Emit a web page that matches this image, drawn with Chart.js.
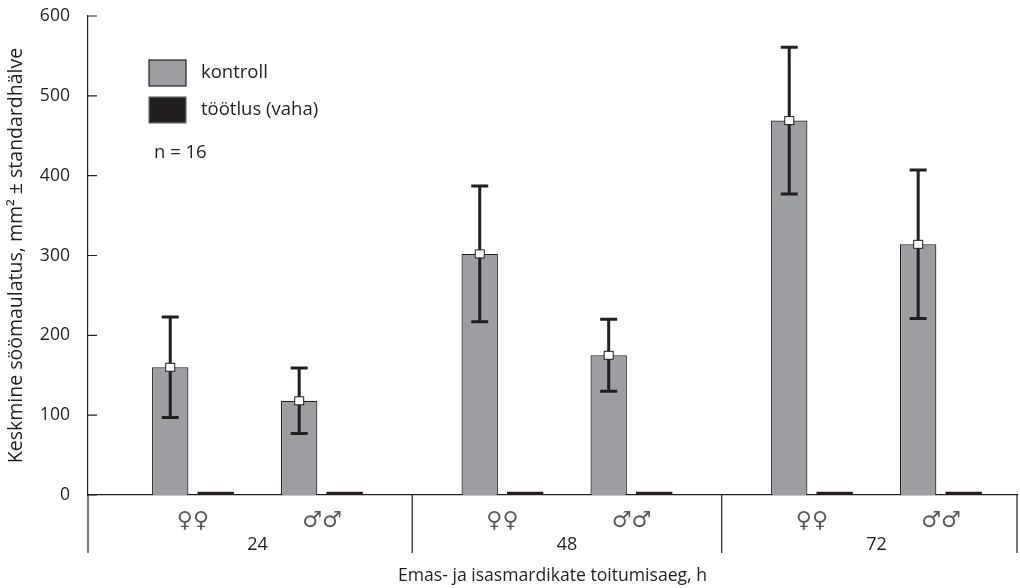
<!DOCTYPE html>
<html>
<head>
<meta charset="utf-8">
<title>Söömaulatus</title>
<script src="https://cdn.jsdelivr.net/npm/chart.js@4.4.1/dist/chart.umd.min.js"></script>
<style>
    html, body { margin: 0; padding: 0; background: #ffffff; }
    #wrap { width: 1020px; height: 588px; position: relative; }
</style>
</head>
<body>
<div id="wrap"><canvas id="feedChart"></canvas></div>
<script>
// --- Data ---
const hours = ['24', '48', '72'];
const sexLabels = ['♀♀', '♂♂'];
// order: 24 ♀♀, 24 ♂♂, 48 ♀♀, 48 ♂♂, 72 ♀♀, 72 ♂♂
const controlMean = [160, 118, 302, 175, 469, 314];
const controlSd = [63, 41, 85, 45, 92, 93];
const waxMean = [4, 4, 4, 4, 4, 4];
const yTicks = [0, 100, 200, 300, 400, 500, 600];
const legendLabels = ['kontroll', 'töötlus (vaha)'];
const sampleNote = 'n = 16';

const INK = '#231f20';
const GREY = '#9d9ea1';
const FONT = "'Open Sans', 'DejaVu Sans', sans-serif";
const GROUP_STEP = 2.4; // distance between hour groups, in slot units

// slot position of bar pair i on the linear x scale
const slotPos = (i) => Math.floor(i / 2) * GROUP_STEP + (i % 2);
const slots = controlMean.map((v, i) => slotPos(i));
const groupCentres = hours.map((h, g) => g * GROUP_STEP + 0.5);
const separators = hours.slice(1).map((h, g) => (slotPos(2 * g + 1) + slotPos(2 * g + 2)) / 2);

// --- Error bars, markers, axis extensions and legend ---
const decorPlugin = {
    id: 'decor',
    afterDatasetsDraw(chart) {
        const ctx = chart.ctx;
        const y = chart.scales.y;
        const meta = chart.getDatasetMeta(0);
        ctx.save();
        meta.data.forEach((bar, i) => {
            const top = y.getPixelForValue(controlMean[i] + controlSd[i]);
            const bottom = y.getPixelForValue(controlMean[i] - controlSd[i]);
            ctx.strokeStyle = INK;
            ctx.lineWidth = 3;
            ctx.beginPath();
            ctx.moveTo(bar.x, top);
            ctx.lineTo(bar.x, bottom);
            ctx.moveTo(bar.x - 8.5, top);
            ctx.lineTo(bar.x + 8.5, top);
            ctx.moveTo(bar.x - 8.5, bottom);
            ctx.lineTo(bar.x + 8.5, bottom);
            ctx.stroke();

            const my = y.getPixelForValue(controlMean[i]);
            ctx.fillStyle = '#ffffff';
            ctx.lineWidth = 1;
            ctx.fillRect(bar.x - 4.5, my - 4, 9, 8);
            ctx.strokeRect(bar.x - 4.5, my - 4, 9, 8);
        });
        ctx.restore();
    },
    afterDraw(chart) {
        const ctx = chart.ctx;
        const area = chart.chartArea;
        const x = chart.scales.x;
        const y = chart.scales.y;
        const lineBottom = area.bottom + 58;
        ctx.save();
        ctx.strokeStyle = INK;
        ctx.lineWidth = 1.2;
        ctx.beginPath();
        // y axis runs on below the zero line, plus the group dividers
        [area.left, ...separators.map(v => x.getPixelForValue(v)), area.right].forEach(px => {
            ctx.moveTo(px, area.bottom);
            ctx.lineTo(px, lineBottom);
        });
        // inward tick marks
        yTicks.forEach(v => {
            const py = y.getPixelForValue(v);
            ctx.moveTo(area.left, py);
            ctx.lineTo(area.left + 9, py);
        });
        ctx.stroke();

        // legend
        const lx = area.left + 61;
        const rows = [area.top + 44, area.top + 81];
        const fills = [GREY, INK];
        const edges = [INK, '#6d6e71'];
        ctx.font = '18.5px ' + FONT;
        ctx.textBaseline = 'middle';
        ctx.textAlign = 'left';
        rows.forEach((ry, k) => {
            ctx.fillStyle = fills[k];
            ctx.fillRect(lx, ry, 37, 26);
            ctx.strokeStyle = edges[k];
            ctx.lineWidth = 1.2;
            ctx.strokeRect(lx, ry, 37, 26);
            ctx.fillStyle = INK;
            ctx.fillText(legendLabels[k], lx + 52, ry + 13);
        });
        ctx.fillText(sampleNote, lx + 5, area.top + 137);
        ctx.restore();
    }
};

// --- Chart ---
function initChart() {
    const ctx = document.getElementById('feedChart').getContext('2d');
    return new Chart(ctx, {
        type: 'bar',
        data: {
            datasets: [
                {
                    label: legendLabels[0],
                    data: controlMean.map((v, i) => ({ x: slots[i], y: v })),
                    backgroundColor: GREY,
                    borderColor: INK,
                    borderWidth: 1.2,
                    borderSkipped: 'bottom',
                    xAxisID: 'x'
                },
                {
                    label: legendLabels[1],
                    data: waxMean.map((v, i) => ({ x: slots[i], y: v })),
                    backgroundColor: INK,
                    borderWidth: 0,
                    xAxisID: 'x'
                }
            ]
        },
        options: {
            responsive: true,
            maintainAspectRatio: false,
            animation: false,
            categoryPercentage: 0.705,
            barPercentage: 0.8,
            layout: { padding: { left: 0, right: 3, top: 16, bottom: 0 } },
            plugins: {
                legend: { display: false },
                tooltip: { enabled: false }
            },
            scales: {
                x: {
                    type: 'linear',
                    position: 'bottom',
                    min: slots[0] - 0.814,
                    max: slots[slots.length - 1] + 0.59,
                    offset: false,
                    afterBuildTicks: (s) => { s.ticks = slots.map(v => ({ value: v })); },
                    afterFit: (s) => { s.height = 35; },
                    grid: { display: false, drawTicks: false },
                    border: { display: true, color: INK, width: 1.2 },
                    ticks: {
                        padding: 13,
                        color: '#58595b',
                        font: { family: "'DejaVu Sans', sans-serif", size: 22 },
                        maxRotation: 0,
                        autoSkip: false,
                        callback: (v, i) => sexLabels[i % 2]
                    }
                },
                x2: {
                    type: 'linear',
                    position: 'bottom',
                    min: slots[0] - 0.814,
                    max: slots[slots.length - 1] + 0.59,
                    offset: false,
                    afterBuildTicks: (s) => { s.ticks = groupCentres.map(v => ({ value: v })); },
                    afterFit: (s) => { s.height = 58; },
                    grid: { display: false, drawTicks: false },
                    border: { display: false },
                    ticks: {
                        padding: 4,
                        color: INK,
                        font: { family: FONT, size: 18 },
                        maxRotation: 0,
                        autoSkip: false,
                        callback: (v, i) => hours[i]
                    },
                    title: {
                        display: true,
                        text: 'Emas- ja isasmardikate toitumisaeg, h',
                        color: INK,
                        font: { family: FONT, size: 17.6 },
                        padding: { top: 0, bottom: 1 }
                    }
                },
                y: {
                    min: 0,
                    max: 600,
                    afterBuildTicks: (s) => { s.ticks = yTicks.map(v => ({ value: v })); },
                    afterFit: (s) => {
                        s.width = 88;
                        // tick padding would otherwise push the plot area down
                        s.paddingTop = 10;
                        s.paddingBottom = 10;
                    },
                    grid: { display: false, drawTicks: false },
                    border: { display: true, color: INK, width: 1.2 },
                    ticks: {
                        padding: 18,
                        color: INK,
                        font: { family: FONT, size: 17.6 }
                    },
                    title: {
                        display: true,
                        text: 'Keskmine söömaulatus, mm² ± standardhälve',
                        color: INK,
                        font: { family: FONT, size: 19.5 },
                        padding: { top: 5, bottom: 0 }
                    }
                }
            }
        },
        plugins: [decorPlugin]
    });
}

document.addEventListener('DOMContentLoaded', () => {
    initChart();
});
</script>
</body>
</html>
